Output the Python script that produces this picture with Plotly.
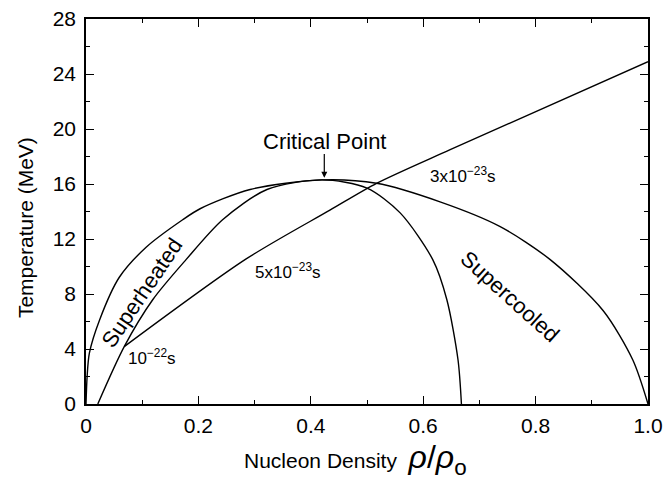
import plotly.graph_objects as go

# Outer (coexistence) curve
outer_x = [0.0, 0.002, 0.006, 0.024, 0.059, 0.107, 0.172, 0.203, 0.292, 0.42, 0.517, 0.63, 0.737, 0.826, 0.92, 0.973, 1.0]
outer_T = [0.0, 2.0, 3.7, 6.1, 9.2, 11.4, 13.4, 14.2, 15.6, 16.3, 16.05, 14.7, 12.9, 10.5, 6.8, 3.2, 0.0]

# Inner (spinodal) curve
inner_x = [0.021, 0.068, 0.119, 0.178, 0.243, 0.322, 0.42, 0.5, 0.559, 0.617, 0.642, 0.662, 0.668]
inner_T = [0.0, 4.17, 7.6, 10.5, 13.4, 15.6, 16.3, 15.7, 13.9, 10.5, 7.6, 3.2, 0.0]

# Time-scale line
line_x = [0.068, 0.285, 0.434, 0.517, 0.648, 1.0]
line_T = [4.17, 10.55, 14.1, 16.05, 18.5, 24.9]

x_ticks = [0, 0.2, 0.4, 0.6, 0.8, 1.0]
x_ticklabels = ["0", "0.2", "0.4", "0.6", "0.8", "1.0"]
y_ticks = [0, 4, 8, 12, 16, 20, 24, 28]

crit_x, crit_T = 0.424, 16.45

FONT = "Liberation Sans, Arial, Helvetica, sans-serif"

fig = go.Figure()
for xs, ys in [(outer_x, outer_T), (inner_x, inner_T), (line_x, line_T)]:
    fig.add_trace(go.Scatter(x=xs, y=ys, mode="lines",
                             line=dict(color="black", width=1.4, shape="spline", smoothing=0.8),
                             showlegend=False, hoverinfo="skip"))

axis_common = dict(
    showgrid=False, zeroline=False, showline=True, linecolor="black", linewidth=1.5,
    mirror="ticks", ticks="inside", ticklen=8, tickwidth=1.2, tickcolor="black",
    tickfont=dict(family=FONT, size=21, color="black"), automargin=False,
    ticklabeloverflow="allow",
)

fig.update_xaxes(range=[0, 1.0], tickvals=x_ticks, ticktext=x_ticklabels, ticklabelstandoff=2,
                 minor=dict(ticks="inside", ticklen=4, tickcolor="black", dtick=0.1, tick0=0, showgrid=False),
                 **axis_common)
fig.update_yaxes(range=[0, 28], tickvals=y_ticks, ticklabelstandoff=4,
                 minor=dict(ticks="inside", ticklen=4, tickcolor="black", dtick=2, tick0=0, showgrid=False),
                 **axis_common)

ann_font = dict(family=FONT, size=22, color="black")
small_font = dict(family=FONT, size=17, color="black")
title_font = dict(family=FONT, size=21, color="black")
annotations = [
    dict(x=crit_x, y=19.1, text="Critical Point", showarrow=False, font=ann_font),
    dict(x=crit_x, y=crit_T, ax=crit_x, ay=18.3, axref="x", ayref="y", text="",
         showarrow=True, arrowhead=2, arrowsize=1, arrowwidth=1.2, arrowcolor="black"),
    dict(x=0.10, y=8.1, text="Superheated", textangle=-56, showarrow=False, font=ann_font),
    dict(x=0.754, y=7.8, text="Supercooled", textangle=42, showarrow=False, font=ann_font),
    dict(x=0.117, y=3.4, text="10<sup>−22</sup>s", showarrow=False, font=small_font),
    dict(x=0.36, y=9.7, text="5x10<sup>−23</sup>s", showarrow=False, font=small_font),
    dict(x=0.67, y=16.65, text="3x10<sup>−23</sup>s", showarrow=False, font=small_font),
    dict(x=0.479, y=-0.145, xref="paper", yref="paper", xanchor="center", yanchor="middle",
         text="Nucleon Density  <span style='font-size:32px'><i>ρ</i>/<i>ρ</i><sub>o</sub></span>",
         showarrow=False, font=title_font),
    dict(x=-0.1085, y=0.457, xref="paper", yref="paper", xanchor="center", yanchor="middle",
         text="Temperature (MeV)", textangle=-90, showarrow=False, font=title_font),
]

fig.update_layout(
    width=664, height=485,
    margin=dict(l=86, r=16, t=19, b=81),
    paper_bgcolor="white", plot_bgcolor="white",
    annotations=annotations,
)

# remove the default 8px page margin so the figure sits at the window's corner
fig.write_html("out.html", config={"displayModeBar": False},
               post_script="document.body.style.margin='0';document.body.style.overflow='hidden';")
